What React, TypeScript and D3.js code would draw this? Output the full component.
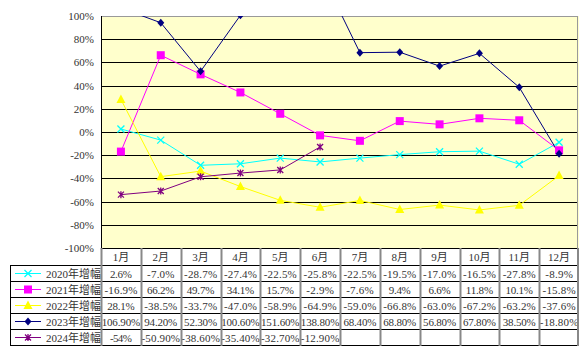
import React from "react";
import * as d3 from "d3";

const months = ["1月","2月","3月","4月","5月","6月","7月","8月","9月","10月","11月","12月"];
const yTicks = [100, 80, 60, 40, 20, 0, -20, -40, -60, -80, -100];

const seriesNames = ["2020年增幅","2021年增幅","2022年增幅","2023年增幅","2024年增幅"];
const v2020 = [2.6, -7.0, -28.7, -27.4, -22.5, -25.8, -22.5, -19.5, -17.0, -16.5, -27.8, -8.9];
const v2021 = [-16.9, 66.2, 49.7, 34.1, 15.7, -2.9, -7.6, 9.4, 6.6, 11.8, 10.1, -15.8];
const v2022 = [28.1, -38.5, -33.7, -47.0, -58.9, -64.9, -59.0, -66.8, -63.0, -67.2, -63.2, -37.6];
const v2023 = [106.9, 94.2, 52.3, 100.6, 151.6, 138.8, 68.4, 68.8, 56.8, 67.8, 38.5, -18.8];
const v2024 = [-54, -50.9, -38.6, -35.4, -32.7, -12.9];

const t2020 = ["2.6%","-7.0%","-28.7%","-27.4%","-22.5%","-25.8%","-22.5%","-19.5%","-17.0%","-16.5%","-27.8%","-8.9%"];
const t2021 = ["-16.9%","66.2%","49.7%","34.1%","15.7%","-2.9%","-7.6%","9.4%","6.6%","11.8%","10.1%","-15.8%"];
const t2022 = ["28.1%","-38.5%","-33.7%","-47.0%","-58.9%","-64.9%","-59.0%","-66.8%","-63.0%","-67.2%","-63.2%","-37.6%"];
const t2023 = ["106.90%","94.20%","52.30%","100.60%","151.60%","138.80%","68.40%","68.80%","56.80%","67.80%","38.50%","-18.80%"];
const t2024 = ["-54%","-50.90%","-38.60%","-35.40%","-32.70%","-12.90%"];

const colors = ["#00FFFF", "#FF00FF", "#FFFF00", "#000080", "#800080"];
const markerTypes = ["x", "square", "triangle", "diamond", "star"];

const W = 580, H = 356;
const L = 101, R = 579, T = 16, B = 248;
const FONT = "'Liberation Serif', 'Noto Sans CJK SC', serif";

function Marker({ type, x, y, color }: { type: string; x: number; y: number; color: string }) {
  if (type === "square") return <rect x={x - 4} y={y - 4} width={8} height={8} fill={color} />;
  if (type === "triangle") return <path d={`M${x},${y - 5}L${x + 4.5},${y + 3.5}L${x - 4.5},${y + 3.5}Z`} fill={color} />;
  if (type === "diamond") return <path d={`M${x},${y - 4}L${x + 3.5},${y}L${x},${y + 4}L${x - 3.5},${y}Z`} fill={color} />;
  if (type === "x")
    return (
      <path d={`M${x - 3.5},${y - 3.5}L${x + 3.5},${y + 3.5}M${x + 3.5},${y - 3.5}L${x - 3.5},${y + 3.5}`} stroke={color} strokeWidth={1.3} />
    );
  return (
    <path
      d={`M${x - 3},${y - 3}L${x + 3},${y + 3}M${x + 3},${y - 3}L${x - 3},${y + 3}M${x},${y - 3.5}L${x},${y + 3.5}`}
      stroke={color}
      strokeWidth={1.3}
    />
  );
}

export default function App() {
  const x = d3.scaleBand<string>().domain(months).range([L, R]);
  const y = d3.scaleLinear().domain([-100, 100]).range([B, T]);
  const cx = (i: number) => (x(months[i]) as number) + x.bandwidth() / 2;
  const allValues = [v2020, v2021, v2022, v2023, v2024];
  const allTexts = [t2020, t2021, t2022, t2023, t2024];
  const line = d3
    .line<number>()
    .x((_, i) => cx(i))
    .y((d) => y(d));

  const rowTop = 265;
  const rowH = 16;
  const tableBottom = rowTop + rowH * seriesNames.length;

  return (
    <svg width={W} height={H} style={{ position: "fixed", left: 0, top: 0, background: "#fff" }} fontFamily={FONT}>
      <defs>
        <clipPath id="plotClip">
          <rect x={L} y={T} width={R - L} height={B - T} />
        </clipPath>
      </defs>
      <rect x={L} y={T} width={R - L} height={B - T} fill="#FFFFCC" />
      {yTicks
        .filter((t) => t !== 100 && t !== -100)
        .map((t) => (
          <line key={t} x1={L} x2={R - 1} y1={Math.round(y(t)) + 0.5} y2={Math.round(y(t)) + 0.5} stroke="#000" />
        ))}
      <line x1={L} x2={R - 1} y1={T + 0.5} y2={T + 0.5} stroke="#999" />
      <line x1={R - 1.5} x2={R - 1.5} y1={T} y2={B} stroke="#999" />
      <g clipPath="url(#plotClip)">
        {allValues.map((vals, s) => (
          <path key={s} d={line(vals) || ""} fill="none" stroke={colors[s]} strokeWidth={1} />
        ))}
        {allValues.map((vals, s) =>
          vals.map((v, i) => <Marker key={s + "-" + i} type={markerTypes[s]} x={cx(i)} y={y(v)} color={colors[s]} />)
        )}
      </g>
      <line x1={L + 0.5} x2={L + 0.5} y1={T} y2={B} stroke="#000" />
      {yTicks.map((t) => (
        <text key={t} x={94} y={y(t) + 4} textAnchor="end" fontSize={11} fill="#333">
          {t + "%"}
        </text>
      ))}
      {/* table */}
      <line x1={L} x2={R} y1={B + 0.5} y2={B + 0.5} stroke="#000" />
      {months.map((m, i) => (
        <text key={m} x={cx(i)} y={261} textAnchor="middle" fontSize={11} fill="#333">
          {m}
        </text>
      ))}
      {seriesNames.map((name, s) => {
        const ty = rowTop + s * rowH;
        return (
          <g key={name}>
            <line x1={10} x2={R} y1={ty + 0.5} y2={ty + 0.5} stroke="#000" />
            <line x1={15} x2={41} y1={ty + 8.5} y2={ty + 8.5} stroke={colors[s]} strokeWidth={1} />
            <Marker type={markerTypes[s]} x={28} y={ty + 8.5} color={colors[s]} />
            <text x={46} y={ty + 12.5} fontSize={11} fill="#333">
              {name}
            </text>
            {allTexts[s].map((t, i) => (
              <text
                key={i}
                x={cx(i)}
                y={ty + 12.5}
                textAnchor="middle"
                fontSize={11}
                fill="#333"
                textLength={t.length * 5.5}
                lengthAdjust="spacing"
              >
                {t}
              </text>
            ))}
          </g>
        );
      })}
      <line x1={10} x2={R} y1={tableBottom + 0.5} y2={tableBottom + 0.5} stroke="#000" />
      <line x1={10.5} x2={10.5} y1={rowTop} y2={tableBottom + 1} stroke="#000" />
      {months.map((m, i) => {
        const xx = Math.round(x(m) as number);
        return (
          <line key={m} x1={xx + 0.5} x2={xx + 0.5} y1={B} y2={tableBottom + 1} stroke="#888" strokeWidth={2} />
        );
      })}
      <line x1={R - 1} x2={R - 1} y1={B} y2={tableBottom + 1} stroke="#888" strokeWidth={2} />
    </svg>
  );
}
